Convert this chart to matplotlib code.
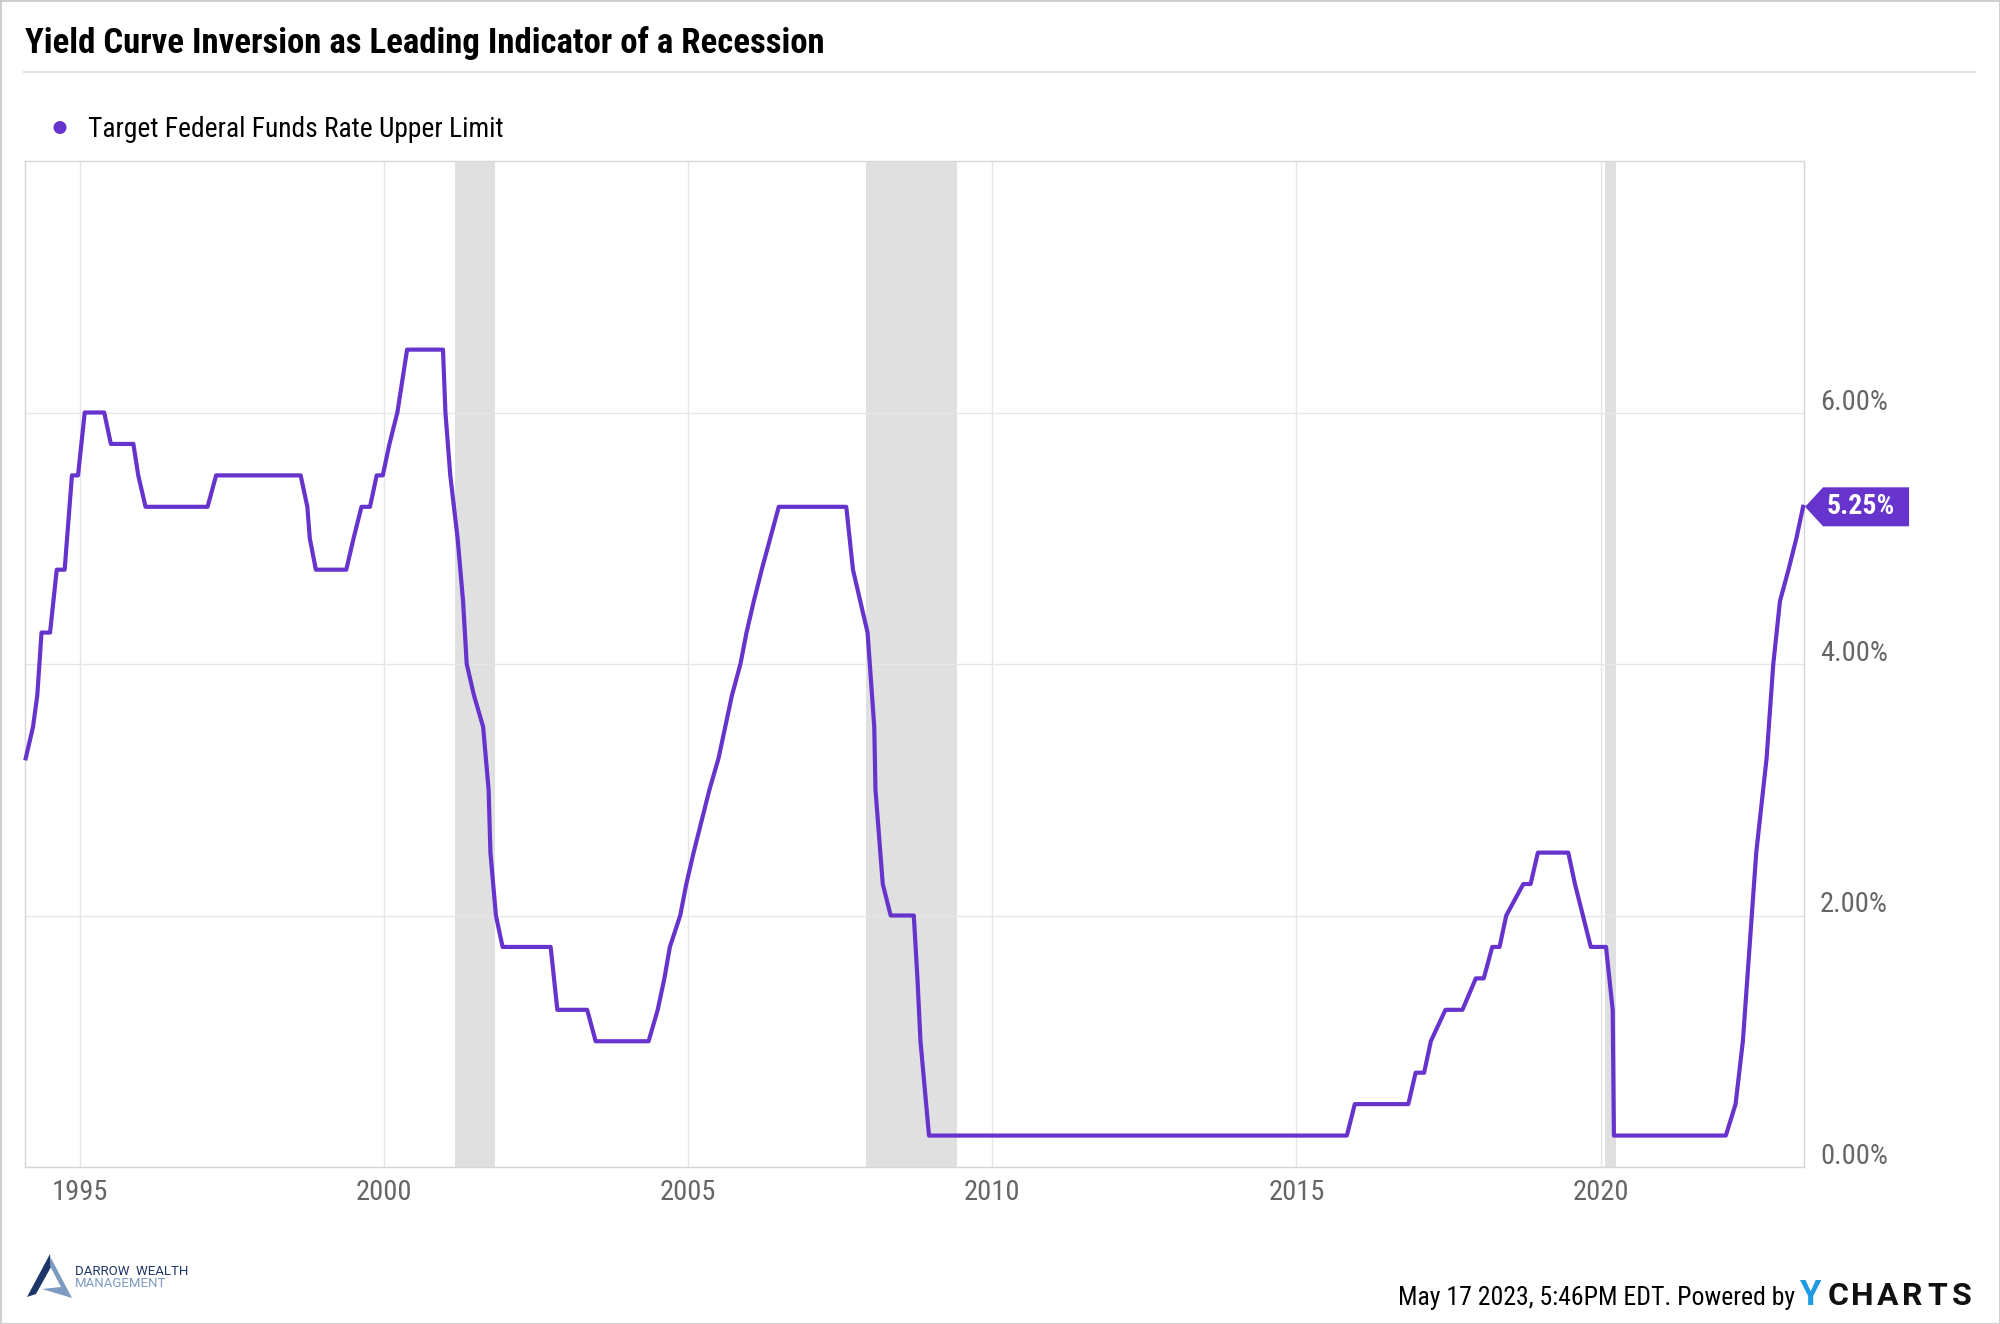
import matplotlib
matplotlib.use("Agg")
import matplotlib.pyplot as plt
from matplotlib import font_manager
from matplotlib.patches import Polygon, Rectangle, Circle
from matplotlib.lines import Line2D
from matplotlib.transforms import IdentityTransform, offset_copy

# Target Federal Funds Rate Upper Limit, vertices of the line as drawn (decimal year, %)
years = [
    1994.11, 1994.23, 1994.30, 1994.37, 1994.51, 1994.62, 1994.75, 1994.87, 1994.97,
    1995.08, 1995.40, 1995.51, 1995.88, 1995.96, 1996.08, 1997.10, 1997.24,
    1998.63, 1998.74, 1998.78, 1998.88, 1999.38, 1999.50, 1999.63, 1999.77,
    1999.88, 1999.98, 2000.09, 2000.22, 2000.38, 2000.97, 2001.01, 2001.09,
    2001.21, 2001.30, 2001.36, 2001.48, 2001.63, 2001.72, 2001.75, 2001.84,
    2001.95, 2002.74, 2002.85, 2003.34, 2003.48, 2004.35, 2004.50, 2004.61,
    2004.70, 2004.87, 2004.97, 2005.09, 2005.22, 2005.35, 2005.50, 2005.61,
    2005.72, 2005.86, 2005.96, 2006.08, 2006.21, 2006.35, 2006.49, 2007.60,
    2007.71, 2007.83, 2007.95, 2008.06, 2008.08, 2008.20, 2008.33, 2008.71,
    2008.77, 2008.82, 2008.96, 2015.83, 2015.96, 2016.84, 2016.96, 2017.10,
    2017.21, 2017.45, 2017.73, 2017.95, 2018.08, 2018.22, 2018.34, 2018.45,
    2018.73, 2018.85, 2018.97, 2019.47, 2019.58, 2019.71, 2019.84, 2020.09,
    2020.20, 2020.22, 2022.06, 2022.22, 2022.34, 2022.45, 2022.56, 2022.73,
    2022.84, 2022.95, 2023.09, 2023.22, 2023.33,
]
rate = [
    3.25, 3.50, 3.75, 4.25, 4.25, 4.75, 4.75, 5.50, 5.50,
    6.00, 6.00, 5.75, 5.75, 5.50, 5.25, 5.25, 5.50,
    5.50, 5.25, 5.00, 4.75, 4.75, 5.00, 5.25, 5.25,
    5.50, 5.50, 5.75, 6.00, 6.50, 6.50, 6.00, 5.50,
    5.00, 4.50, 4.00, 3.75, 3.50, 3.00, 2.50, 2.00,
    1.75, 1.75, 1.25, 1.25, 1.00, 1.00, 1.25, 1.50,
    1.75, 2.00, 2.25, 2.50, 2.75, 3.00, 3.25, 3.50,
    3.75, 4.00, 4.25, 4.50, 4.75, 5.00, 5.25, 5.25,
    4.75, 4.50, 4.25, 3.50, 3.00, 2.25, 2.00, 2.00,
    1.50, 1.00, 0.25, 0.25, 0.50, 0.50, 0.75, 0.75,
    1.00, 1.25, 1.25, 1.50, 1.50, 1.75, 1.75, 2.00,
    2.25, 2.25, 2.50, 2.50, 2.25, 2.00, 1.75, 1.75,
    1.25, 0.25, 0.25, 0.50, 1.00, 1.75, 2.50, 3.25,
    4.00, 4.50, 4.75, 5.00, 5.25,
]

# recessions (shaded bands)
recession_start = [2001.17, 2007.92, 2020.08]
recession_end = [2001.83, 2009.42, 2020.25]

x_ticks = [1995, 2000, 2005, 2010, 2015, 2020]
y_ticks = [0, 2, 4, 6]
y_tick_labels = ["0.00%", "2.00%", "4.00%", "6.00%"]

title = "Yield Curve Inversion as Leading Indicator of a Recession"
series_name = "Target Federal Funds Rate Upper Limit"
footer = "May 17 2023, 5:46PM EDT. Powered by"

PURPLE = "#6633cc"
GREY_TXT = "#666666"
W, H = 2000, 1324

# pick a condensed face when one is installed
installed = {f.name for f in font_manager.fontManager.ttflist}
cond = "Roboto"
for name in ["Roboto Condensed", "Liberation Sans Narrow", "Roboto"]:
    if name in installed:
        cond = name
        break


def fx(px):
    return px / W


def fy(py):
    return 1 - py / H


fig = plt.figure(figsize=(W / 100, H / 100), dpi=100)
fig.patch.set_facecolor("white")

# plot area
ax_l, ax_r, ax_t, ax_b = 24.5, 1804.3, 161, 1167
ax = fig.add_axes([fx(ax_l), fy(ax_b), (ax_r - ax_l) / W, (ax_b - ax_t) / H])
ax.set_xlim(1994.09, 2023.35)
ax.set_ylim(0, 8)

for s, e in zip(recession_start, recession_end):
    ax.axvspan(s, e, color="#e0e0e0", lw=0, zorder=0.5)

ax.plot(years, rate, color=PURPLE, lw=3.0, zorder=3, clip_on=False,
        solid_joinstyle="round")

ax.set_xticks(x_ticks)
ax.set_yticks(y_ticks)
ax.grid(True, color="#e6e6e6", lw=1.0, zorder=0)
ax.tick_params(length=0, labelbottom=False, labelleft=False)
for sp in ax.spines.values():
    sp.set_color("#d6d6d6")
    sp.set_linewidth(1.0)

# y labels on the right, sitting just above their gridlines
ylab_trans = offset_copy(ax.get_yaxis_transform(), fig=fig, y=3, units="dots")
for v, lab in zip(y_ticks, y_tick_labels):
    ax.text((1820 - ax_l) / (ax_r - ax_l), v, lab, transform=ylab_trans,
            ha="left", va="baseline", fontsize=20.5, color=GREY_TXT, family=cond)

# x labels
for t in x_ticks:
    ax.text(t, (ax_b - 1200) / (ax_b - ax_t), str(t), transform=ax.get_xaxis_transform(),
            ha="center", va="baseline", fontsize=20.5, color=GREY_TXT, family=cond)

# last value callout
px, py = ax.transData.transform((years[-1], rate[-1]))
tx, ty = px + 2, py
hh = 19.5
callout = Polygon([(tx, ty), (tx + 18, ty + hh), (tx + 104, ty + hh),
                   (tx + 104, ty - hh), (tx + 18, ty - hh)],
                  closed=True, facecolor=PURPLE, edgecolor="none",
                  transform=IdentityTransform())
fig.add_artist(callout)
fig.text((tx + 56) / W, ty / H, f"{rate[-1]:.2f}%", ha="center", va="center",
         fontsize=20, color="white", weight="bold", family=cond)

# title + separator
fig.text(fx(25), fy(53.5), title, ha="left", va="baseline", fontsize=25,
         weight="bold", color="black", family=cond)
fig.add_artist(Line2D([fx(24), fx(1975)], [fy(72), fy(72)], color="#e0e0e0", lw=1.5))

# legend
fig.add_artist(Circle((60, H - 127.5), 6.5, facecolor=PURPLE, edgecolor="none",
                      transform=IdentityTransform()))
fig.text(fx(88), fy(137), series_name, ha="left", va="baseline", fontsize=19.8,
         color="black", family=cond)

# footer
fig.text(fx(1795), fy(1305), footer, ha="right", va="baseline", fontsize=18.5,
         color="black", family=cond)
fig.text(fx(1811), fy(1305), "Y", ha="center", va="baseline", fontsize=25,
         color="#1e9be3", weight="bold", family="Roboto")
for i, ch in enumerate("CHARTS"):
    fig.text(fx(1838 + i * 24.8), fy(1305), ch, ha="center", va="baseline",
             fontsize=23, color="#111111", weight="bold", family="Roboto")

# logo
dark = "#1d3567"
light = "#7d9bc1"
fig.add_artist(Polygon([(fx(50), fy(1254)), (fx(27), fy(1297)), (fx(36), fy(1294)),
                        (fx(51), fy(1267))], closed=True, facecolor=dark,
                       edgecolor="none", transform=fig.transFigure))
fig.add_artist(Polygon([(fx(51), fy(1258)), (fx(72), fy(1298)), (fx(42), fy(1289)),
                        (fx(61), fy(1287)), (fx(50), fy(1266))], closed=True,
                       facecolor=light, edgecolor="none", transform=fig.transFigure))
fig.text(fx(75), fy(1275), "DARROW  WEALTH", ha="left", va="baseline", fontsize=9.5,
         color=dark, family="Roboto")
fig.text(fx(75), fy(1287), "MANAGEMENT", ha="left", va="baseline", fontsize=9.5,
         color=light, family="Roboto")

# outer frame
fig.add_artist(Rectangle((0, 0), 1, 1, transform=fig.transFigure, fill=False,
                         edgecolor="#cccccc", lw=2))

fig.savefig("out.png", dpi=100)
